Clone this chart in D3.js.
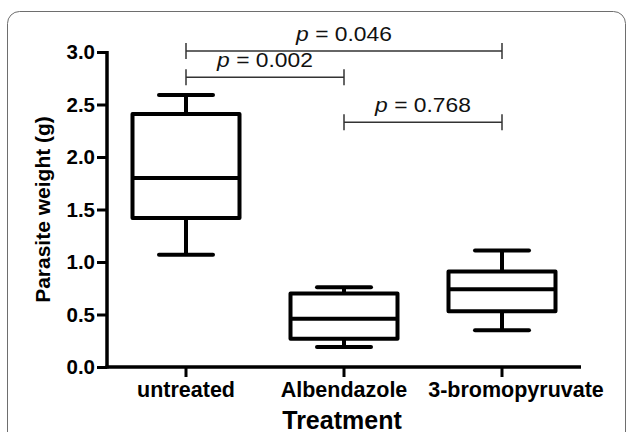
<!DOCTYPE html>
<html lang="en">
<head>
<meta charset="UTF-8">
<title>Parasite weight by treatment</title>
<script src="https://d3js.org/d3.v7.min.js"></script>
<style>
  body { margin: 0; background: #fff; }
  text { font-family: "Liberation Sans", Arial, sans-serif; }
</style>
</head>
<body>
<div id="chart"></div>
<script>
// Box plot summaries
const treatments = ["untreated", "Albendazole", "3-bromopyruvate"];
const whiskerLow  = [1.07, 0.19, 0.35];
const quartile1   = [1.42, 0.27, 0.53];
const medians     = [1.80, 0.46, 0.74];
const quartile3   = [2.41, 0.70, 0.91];
const whiskerHigh = [2.59, 0.76, 1.11];

const yTicks = [0, 0.5, 1.0, 1.5, 2.0, 2.5, 3.0];

// Pairwise comparisons (bracket height in data units)
const compFrom   = ["untreated", "untreated", "Albendazole"];
const compTo     = ["3-bromopyruvate", "Albendazole", "3-bromopyruvate"];
const compLevel  = [3.01, 2.76, 2.33];
const compP      = ["0.046", "0.002", "0.768"];

const width = 627, height = 432;
const svg = d3.select("#chart").append("svg")
    .attr("width", width)
    .attr("height", height);

// outer frame
svg.append("rect")
    .attr("x", 7.5).attr("y", 11.5)
    .attr("width", 618).attr("height", 460)
    .attr("rx", 12)
    .attr("fill", "none")
    .attr("stroke", "#6e6e6e")
    .attr("stroke-width", 1);

const x = d3.scaleBand().domain(treatments).range([107, 581]);
const y = d3.scaleLinear().domain([0, 3]).range([367, 52]);

const boxW = 107, capW = 54;

const boxes = treatments.map((t, i) => ({
    name: t, lo: whiskerLow[i], q1: quartile1[i], med: medians[i],
    q3: quartile3[i], hi: whiskerHigh[i]
}));

const g = svg.append("g");

boxes.forEach(d => {
    const cx = x(d.name) + x.bandwidth() / 2;
    const bg = g.append("g")
        .attr("stroke", "#000")
        .attr("stroke-width", 4)
        .attr("fill", "none");
    // whiskers
    bg.append("line").attr("x1", cx).attr("x2", cx)
        .attr("y1", y(d.hi)).attr("y2", y(d.q3));
    bg.append("line").attr("x1", cx).attr("x2", cx)
        .attr("y1", y(d.q1)).attr("y2", y(d.lo));
    bg.append("line").attr("x1", cx - capW / 2).attr("x2", cx + capW / 2)
        .attr("y1", y(d.hi)).attr("y2", y(d.hi))
        .attr("stroke-linecap", "round");
    bg.append("line").attr("x1", cx - capW / 2).attr("x2", cx + capW / 2)
        .attr("y1", y(d.lo)).attr("y2", y(d.lo))
        .attr("stroke-linecap", "round");
    // box
    bg.append("rect")
        .attr("x", cx - boxW / 2)
        .attr("y", y(d.q3))
        .attr("width", boxW)
        .attr("height", y(d.q1) - y(d.q3))
        .attr("stroke-linejoin", "round");
    // median
    bg.append("line").attr("x1", cx - boxW / 2).attr("x2", cx + boxW / 2)
        .attr("y1", y(d.med)).attr("y2", y(d.med));
});

// y axis
const yAxis = svg.append("g")
    .attr("transform", "translate(107,0)")
    .call(d3.axisLeft(y).tickValues(yTicks).tickFormat(d3.format(".1f"))
        .tickSize(10).tickPadding(2));
yAxis.select(".domain").attr("stroke-width", 3.5).attr("d", `M0,${y(3) - 1}V${y(0) + 1.5}`);
yAxis.selectAll(".tick line").attr("stroke-width", 3);
yAxis.selectAll(".tick text")
    .attr("font-size", 20.5)
    .attr("font-weight", "bold")
    .attr("font-family", "Liberation Sans, Arial, sans-serif")
    .attr("fill", "#000");

// x axis
const xAxis = svg.append("g")
    .attr("transform", `translate(0,${y(0)})`)
    .call(d3.axisBottom(x).tickSize(10).tickPadding(5));
xAxis.select(".domain").attr("stroke-width", 3.5).attr("d", "M105.5,0H581");
xAxis.selectAll(".tick line").attr("stroke-width", 3);
xAxis.selectAll(".tick text")
    .attr("font-size", 21.5)
    .attr("font-weight", "bold")
    .attr("font-family", "Liberation Sans, Arial, sans-serif")
    .attr("fill", "#000")
    // the last label sits a bit right of its tick in the original
    .attr("dx", (d, i) => i === treatments.length - 1 ? 14 : 0);

// axis titles
svg.append("text")
    .attr("transform", `translate(50,${(y(0) + y(3)) / 2}) rotate(-90)`)
    .attr("text-anchor", "middle")
    .attr("font-size", 21)
    .attr("font-weight", "bold")
    .text("Parasite weight (g)");

svg.append("text")
    .attr("x", 342)
    .attr("y", 429)
    .attr("text-anchor", "middle")
    .attr("font-size", 25)
    .attr("font-weight", "bold")
    .text("Treatment");

// significance brackets
compFrom.forEach((f, i) => {
    const x1 = x(f) + x.bandwidth() / 2;
    const x2 = x(compTo[i]) + x.bandwidth() / 2;
    const yy = y(compLevel[i]);
    const br = svg.append("g").attr("stroke", "#333").attr("stroke-width", 1.5);
    br.append("line").attr("x1", x1).attr("x2", x2).attr("y1", yy).attr("y2", yy);
    br.append("line").attr("x1", x1).attr("x2", x1).attr("y1", yy - 8).attr("y2", yy + 8);
    br.append("line").attr("x1", x2).attr("x2", x2).attr("y1", yy - 8).attr("y2", yy + 8);
    const t = svg.append("text")
        .attr("x", (x1 + x2) / 2)
        .attr("y", yy - 10)
        .attr("text-anchor", "middle")
        .attr("font-size", 19.5)
        .attr("fill", "#111");
    t.append("tspan").attr("font-style", "italic").text("p");
    t.append("tspan").text(" = " + compP[i]);
    // the original lettering is a little wider than Liberation Sans
    t.attr("textLength", t.node().getComputedTextLength() * 1.17)
        .attr("lengthAdjust", "spacingAndGlyphs");
});
</script>
</body>
</html>
